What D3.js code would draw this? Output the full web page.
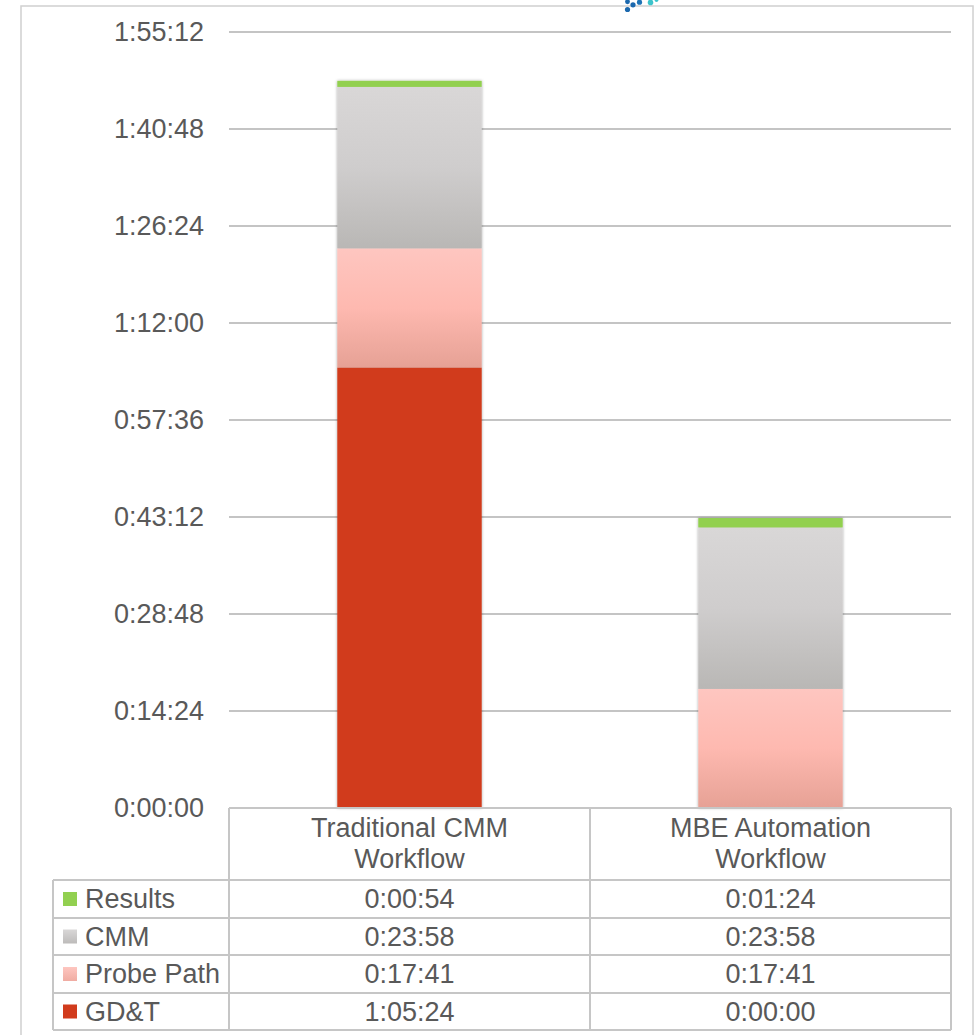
<!DOCTYPE html>
<html>
<head>
<meta charset="utf-8">
<title>Inspection workflow time</title>
<script src="https://cdn.jsdelivr.net/npm/d3@7/dist/d3.min.js"></script>
<style>
  html, body { margin: 0; padding: 0; background: #ffffff; }
  svg { display: block; font-family: "Liberation Sans", Arial, sans-serif; }
</style>
</head>
<body>
<svg id="chart" width="979" height="1035"></svg>
<script>
// Workflow categories (header lines in the data table)
const categories = ["Traditional CMM Workflow", "MBE Automation Workflow"];
const categoryLines = [["Traditional CMM", "Workflow"], ["MBE Automation", "Workflow"]];

// Stacked series, bottom to top; durations in seconds
const seriesNames = ["GD&T", "Probe Path", "CMM", "Results"];
const gdtSeconds = [3924, 0];          // 1:05:24, 0:00:00
const probePathSeconds = [1061, 1061]; // 0:17:41
const cmmSeconds = [1438, 1438];       // 0:23:58
const resultsSeconds = [54, 84];       // 0:00:54, 0:01:24

// Axis ticks every 14:24 up to 1:55:12
const tickStep = 864;
const axisMax = 6912;
const tickValues = d3.range(0, axisMax + 1, tickStep);

const seriesValues = {
  "GD&T": gdtSeconds,
  "Probe Path": probePathSeconds,
  "CMM": cmmSeconds,
  "Results": resultsSeconds
};

const rows = categories.map((c, i) => {
  const r = { category: c };
  seriesNames.forEach(s => { r[s] = seriesValues[s][i]; });
  return r;
});

const fmt = s => {
  const h = Math.floor(s / 3600);
  const m = Math.floor((s % 3600) / 60);
  const sec = s % 60;
  return `${h}:${String(m).padStart(2, "0")}:${String(sec).padStart(2, "0")}`;
};

const svg = d3.select("#chart");
const textColor = "#595959";
const fontSize = 27;

const plot = { left: 229, right: 951, top: 32, bottom: 808 };

const x = d3.scaleBand().domain(categories).range([plot.left, plot.right]).padding(0);
const y = d3.scaleLinear().domain([0, axisMax]).range([plot.bottom, plot.top]);
const barWidth = x.bandwidth() * 0.4;

// Fills
const defs = svg.append("defs");
const grad = (id, stops) => {
  const g = defs.append("linearGradient").attr("id", id)
    .attr("x1", 0).attr("y1", 0).attr("x2", 0).attr("y2", 1);
  stops.forEach(([o, c]) => g.append("stop").attr("offset", o).attr("stop-color", c));
};
grad("g-cmm", [[0, "#d9d7d7"], [0.5, "#cfcdcd"], [1, "#b9b7b5"]]);
grad("g-probe", [[0, "#fec6c0"], [0.5, "#feb9b0"], [1, "#e6a195"]]);
grad("g-probe-key", [[0, "#fec6c0"], [1, "#f0aca2"]]);
grad("g-cmm-key", [[0, "#d9d7d7"], [1, "#bdbbba"]]);

const shadow = defs.append("filter").attr("id", "barShadow")
  .attr("x", "-10%").attr("y", "-5%").attr("width", "120%").attr("height", "110%");
shadow.append("feDropShadow").attr("dx", 0).attr("dy", 0)
  .attr("stdDeviation", 1.6).attr("flood-color", "#000").attr("flood-opacity", 0.35);

const fills = {
  "GD&T": "#d13b1d",
  "Probe Path": "url(#g-probe)",
  "CMM": "url(#g-cmm)",
  "Results": "#92d050"
};
const keyFills = {
  "GD&T": "#d13b1d",
  "Probe Path": "url(#g-probe-key)",
  "CMM": "url(#g-cmm-key)",
  "Results": "#92d050"
};

// Outer frame
svg.append("rect")
  .attr("x", 21).attr("y", 6).attr("width", 952).attr("height", 1060)
  .attr("fill", "none").attr("stroke", "#d0d0d0").attr("stroke-width", 1.5);

// Gridlines
svg.append("g").selectAll("line")
  .data(tickValues.filter(v => v > 0))
  .join("line")
  .attr("x1", plot.left).attr("x2", plot.right)
  .attr("y1", d => y(d)).attr("y2", d => y(d))
  .attr("stroke", "#c4c4c4").attr("stroke-width", 2);

// Y axis labels
const yAxis = d3.axisLeft(y).tickValues(tickValues).tickFormat(fmt).tickSize(0).tickPadding(25);
const yg = svg.append("g").attr("transform", `translate(${plot.left},0)`).call(yAxis);
yg.select(".domain").remove();
yg.selectAll("text")
  .attr("fill", textColor).style("font-size", fontSize + "px")
  .style("font-family", "'Liberation Sans', Arial, sans-serif");

// Stacked bars
const stack = d3.stack().keys(seriesNames);
const stacked = stack(rows);
const barsG = svg.append("g").attr("filter", "url(#barShadow)");
stacked.forEach(layer => {
  barsG.append("g").selectAll("rect")
    .data(layer.filter(d => d[1] - d[0] > 0))
    .join("rect")
    .attr("x", d => x(d.data.category) + (x.bandwidth() - barWidth) / 2)
    .attr("width", barWidth)
    .attr("y", d => y(d[1]))
    .attr("height", d => y(d[0]) - y(d[1]))
    .attr("fill", fills[layer.key]);
});

// Data table
const tableLeft = 53;
const headerTop = plot.bottom;
const headerBottom = 880;
const rowEdges = [880, 918, 955, 993, 1030];
const tableRows = seriesNames.slice().reverse(); // Results, CMM, Probe Path, GD&T
const lineColor = "#c6c6c6";
const tg = svg.append("g");

// horizontal lines
tg.append("line").attr("x1", plot.left).attr("x2", plot.right)
  .attr("y1", headerTop).attr("y2", headerTop)
  .attr("stroke", lineColor).attr("stroke-width", 2);
rowEdges.forEach(yy => {
  tg.append("line").attr("x1", tableLeft).attr("x2", plot.right)
    .attr("y1", yy).attr("y2", yy)
    .attr("stroke", lineColor).attr("stroke-width", 2);
});
// vertical lines
tg.append("line").attr("x1", tableLeft).attr("x2", tableLeft)
  .attr("y1", rowEdges[0]).attr("y2", rowEdges[rowEdges.length - 1])
  .attr("stroke", lineColor).attr("stroke-width", 2);
[plot.left, x(categories[1]), plot.right].forEach(xx => {
  tg.append("line").attr("x1", xx).attr("x2", xx)
    .attr("y1", headerTop).attr("y2", rowEdges[rowEdges.length - 1])
    .attr("stroke", lineColor).attr("stroke-width", 2);
});

// header: category names
categories.forEach((c, i) => {
  const t = tg.append("text")
    .attr("x", x(c) + x.bandwidth() / 2)
    .attr("text-anchor", "middle")
    .attr("fill", textColor).style("font-size", fontSize + "px");
  categoryLines[i].forEach((ln, j) => {
    t.append("tspan").attr("x", x(c) + x.bandwidth() / 2)
      .attr("y", 837 + j * 31).text(ln);
  });
});

// body rows
tableRows.forEach((name, r) => {
  const cy = (rowEdges[r] + rowEdges[r + 1]) / 2;
  tg.append("rect").attr("x", 63).attr("y", cy - 7).attr("width", 14).attr("height", 14)
    .attr("fill", keyFills[name]);
  tg.append("text").attr("x", 85).attr("y", cy).attr("dy", "0.35em")
    .attr("fill", textColor).style("font-size", fontSize + "px").text(name);
  categories.forEach((c, i) => {
    tg.append("text")
      .attr("x", x(c) + x.bandwidth() / 2).attr("y", cy).attr("dy", "0.35em")
      .attr("text-anchor", "middle")
      .attr("fill", textColor).style("font-size", fontSize + "px")
      .text(fmt(seriesValues[name][i]));
  });
});

// Corner logo fragment at the top edge
const logoDots = [
  { cx: 627.5, cy: 9.5, r: 2.6, c: "#1b68ae" },
  { cx: 633, cy: 4.8, r: 2.6, c: "#1b68ae" },
  { cx: 627.5, cy: 1.8, r: 2.4, c: "#1b68ae" },
  { cx: 639.5, cy: 2.2, r: 2.6, c: "#1e73b6" },
  { cx: 650.5, cy: 2.4, r: 2.8, c: "#3cc3cb" },
  { cx: 656.5, cy: 0.2, r: 1.8, c: "#3cc3cb" }
];
svg.append("g").selectAll("circle").data(logoDots).join("circle")
  .attr("cx", d => d.cx).attr("cy", d => d.cy).attr("r", d => d.r).attr("fill", d => d.c);
</script>
</body>
</html>
